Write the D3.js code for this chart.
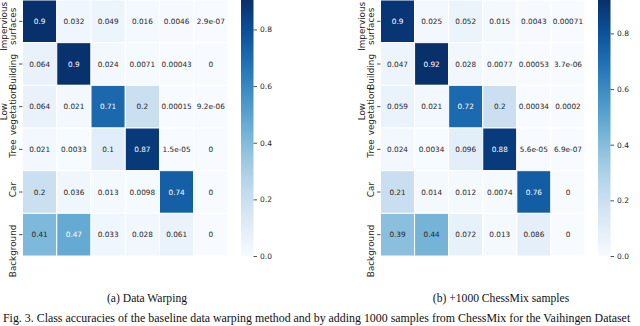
<!DOCTYPE html>
<html>
<head>
<meta charset="utf-8">
<script src="https://cdn.jsdelivr.net/npm/d3@7"></script>
<style>
  body { margin: 0; background: #fff; }
  svg { display: block; font-family: 'DejaVu Sans', sans-serif; }
  .tick text { fill: #262626; }
  .caption { font-family: 'Liberation Serif', 'Times New Roman', serif; fill: #111; }
</style>
</head>
<body>
<svg width="640" height="326"></svg>
<script>
  // Class names (row labels), split over lines as in the figure
  const classLabels = [
    ['Impervious', 'surfaces'],
    ['Building'],
    ['Low', 'vegetation'],
    ['Tree'],
    ['Car'],
    ['Background']
  ];

  // (a) Data Warping: per-class accuracies (rows = true class)
  const warpingAcc = [
    [0.904, 0.032, 0.049, 0.016, 0.0046, 2.9e-07],
    [0.064, 0.898, 0.024, 0.0071, 0.00043, 0],
    [0.064, 0.021, 0.71, 0.2, 0.00015, 9.2e-06],
    [0.021, 0.0033, 0.1, 0.87, 1.5e-05, 0],
    [0.2, 0.036, 0.013, 0.0098, 0.74, 0],
    [0.41, 0.47, 0.033, 0.028, 0.061, 0]
  ];

  // (b) +1000 ChessMix samples
  const chessmixAcc = [
    [0.9, 0.025, 0.052, 0.015, 0.0043, 0.00071],
    [0.047, 0.92, 0.028, 0.0077, 0.00053, 3.7e-06],
    [0.059, 0.021, 0.72, 0.2, 0.00034, 0.0002],
    [0.024, 0.0034, 0.096, 0.88, 5.6e-05, 6.9e-07],
    [0.21, 0.014, 0.012, 0.0074, 0.76, 0],
    [0.39, 0.44, 0.072, 0.013, 0.086, 0]
  ];

  const colorbarTicks = [0, 0.2, 0.4, 0.6, 0.8];
  const panelCaptions = ['(a) Data Warping', '(b) +1000 ChessMix samples'];
  const figCaption = 'Fig. 3.  Class accuracies of the baseline data warping method and by adding 1000 samples from ChessMix for the Vaihingen Dataset';

  const svg = d3.select('svg');

  // Python-like '.2g' formatting, as seaborn prints the annotations
  const fmtG = v => {
    if (v === 0) return '0';
    const e = Math.floor(Math.log10(Math.abs(v)));
    if (e < -4 || e >= 2) {
      let [m, x] = v.toExponential(1).split('e');
      m = m.replace(/\.?0+$/, '');
      const n = +x;
      return m + 'e' + (n < 0 ? '-' : '+') + String(Math.abs(n)).padStart(2, '0');
    }
    return String(+v.toPrecision(2));
  };

  // relative luminance (matplotlib style) to pick annotation colour
  const luminance = c => {
    const rgb = d3.rgb(c);
    const lin = u => {
      u /= 255;
      return u <= 0.03928 ? u / 12.92 : Math.pow((u + 0.055) / 1.055, 2.4);
    };
    return 0.2126 * lin(rgb.r) + 0.7152 * lin(rgb.g) + 0.0722 * lin(rgb.b);
  };

  const gridTop = 0;
  const gridHeight = 256;
  const labelSize = 8.8;
  const cbTickSize = 7.5;

  const drawPanel = (data, left, gridWidth, caption, captionX, id) => {
    const g = svg.append('g');
    const n = classLabels.length;
    const idx = d3.range(n);
    const vmax = d3.max(data.flat());

    const xScale = d3.scaleBand().domain(idx).range([left, left + gridWidth]);
    const yScale = d3.scaleBand().domain(idx).range([gridTop, gridTop + gridHeight]);
    const color = d3.scaleSequential(d3.interpolateBlues).domain([0, vmax]);

    const cells = [];
    data.forEach((row, i) => row.forEach((v, j) => cells.push({ i, j, v })));

    // cells
    g.selectAll('rect.cell').data(cells)
      .enter().append('rect')
        .attr('class', 'cell')
        .attr('x', d => xScale(d.j))
        .attr('y', d => yScale(d.i))
        .attr('width', xScale.bandwidth())
        .attr('height', yScale.bandwidth())
        .attr('fill', d => color(d.v))
        .attr('stroke', '#fff')
        .attr('stroke-width', 1);

    // annotations
    g.selectAll('text.annot').data(cells)
      .enter().append('text')
        .attr('class', 'annot')
        .attr('x', d => xScale(d.j) + xScale.bandwidth() / 2)
        .attr('y', d => yScale(d.i) + yScale.bandwidth() / 2)
        .attr('dy', '0.35em')
        .attr('text-anchor', 'middle')
        .attr('font-size', 7.3)
        .attr('fill', d => luminance(color(d.v)) > 0.408 ? '#262626' : '#fff')
        .text(d => fmtG(d.v));

    // y axis: ticks only, labels drawn rotated
    const yAxisG = g.append('g')
      .attr('transform', `translate(${left},0)`)
      .call(d3.axisLeft(yScale).tickSize(3.5).tickFormat(''));
    yAxisG.select('.domain').remove();
    yAxisG.selectAll('.tick line').attr('stroke', '#262626').attr('stroke-width', 0.8);

    idx.forEach(i => {
      const lines = classLabels[i];
      const cy = yScale(i) + yScale.bandwidth() / 2;
      const multi = lines.length > 1;
      lines.forEach((line, k) => {
        const bx = left - 6.5 - (lines.length - 1 - k) * 9;
        const ty = multi ? cy + 5 : cy - 10;
        g.append('text')
          .attr('transform', `translate(${bx},${ty}) rotate(-90)`)
          .attr('text-anchor', multi ? 'middle' : 'end')
          .attr('font-size', labelSize)
          .attr('fill', '#262626')
          .text(line);
      });
    });

    // colorbar
    const cbLeft = left + gridWidth + 13;
    const cbWidth = 12.5;
    const cScale = d3.scaleLinear().domain([0, vmax]).range([gridTop + gridHeight, gridTop]);

    const grad = svg.append('defs').append('linearGradient')
      .attr('id', id)
      .attr('x1', 0).attr('y1', 1).attr('x2', 0).attr('y2', 0);
    d3.range(0, 1.0001, 0.05).forEach(t => {
      grad.append('stop').attr('offset', t).attr('stop-color', d3.interpolateBlues(t));
    });

    g.append('rect')
      .attr('x', cbLeft)
      .attr('y', gridTop)
      .attr('width', cbWidth)
      .attr('height', gridHeight)
      .attr('fill', `url(#${id})`);

    const cAxisG = g.append('g')
      .attr('transform', `translate(${cbLeft + cbWidth},0)`)
      .call(d3.axisRight(cScale).tickValues(colorbarTicks).tickFormat(d3.format('.1f'))
        .tickSize(3.5).tickPadding(3));
    cAxisG.select('.domain').remove();
    cAxisG.selectAll('.tick line').attr('stroke', '#262626').attr('stroke-width', 0.8);
    cAxisG.selectAll('.tick text')
      .attr('font-size', cbTickSize)
      .attr('font-family', 'DejaVu Sans, sans-serif');

    // sub caption
    svg.append('text')
      .attr('class', 'caption')
      .attr('x', captionX)
      .attr('y', 302)
      .attr('text-anchor', 'middle')
      .attr('font-size', 11.6)
      .text(caption);
  };

  drawPanel(warpingAcc, 22.5, 205.5, panelCaptions[0], 147, 'cb-a');
  drawPanel(chessmixAcc, 380.5, 204.5, panelCaptions[1], 501, 'cb-b');

  svg.append('text')
    .attr('class', 'caption')
    .attr('x', 3)
    .attr('y', 322)
    .attr('font-size', 11.9)
    .text(figCaption);
</script>
</body>
</html>
